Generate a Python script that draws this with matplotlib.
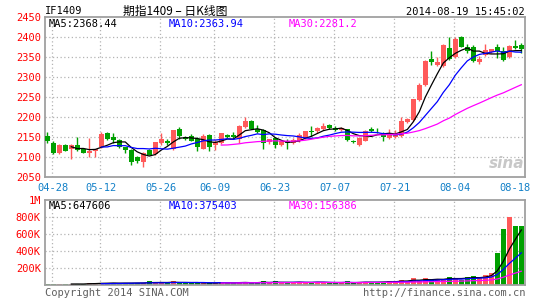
import numpy as np
import pandas as pd
import matplotlib
matplotlib.use('Agg')
import matplotlib.pyplot as plt

# ---- data (IF1409 daily, 2014-04-25 .. 2014-08-19) ----
holidays = ['2014-05-01', '2014-05-02', '2014-06-02']
trade_days = [d for d in pd.bdate_range('2014-04-25', '2014-08-19')
              if d.strftime('%Y-%m-%d') not in holidays]
day_labels = [d.strftime('%m-%d') for d in trade_days]

opens = [2152, 2136, 2109, 2131, 2120, 2131, 2119, 2109, 2114, 2124,
         2161, 2149, 2143, 2124, 2118, 2101, 2088, 2117, 2108, 2134,
         2139, 2119, 2171, 2151, 2152, 2144, 2121, 2154, 2131, 2134,
         2156, 2154, 2144, 2174, 2191, 2171, 2167, 2138, 2147, 2129,
         2141, 2134, 2139, 2147, 2164, 2164, 2171, 2180, 2173, 2167,
         2169, 2141, 2131, 2141, 2169, 2166, 2161, 2147, 2149, 2152,
         2188, 2193, 2243, 2280, 2345, 2330, 2328, 2373, 2351, 2401,
         2374, 2376, 2338, 2355, 2362, 2374, 2366, 2349, 2378, 2381]
highs = [2163, 2140, 2133, 2132, 2133, 2151, 2121, 2148, 2121, 2162,
         2162, 2161, 2144, 2126, 2121, 2103, 2113, 2120, 2138, 2159,
         2145, 2168, 2174, 2152, 2157, 2151, 2157, 2158, 2142, 2161,
         2158, 2162, 2180, 2199, 2192, 2181, 2170, 2146, 2150, 2141,
         2144, 2148, 2160, 2166, 2177, 2174, 2186, 2183, 2178, 2174,
         2171, 2143, 2150, 2168, 2174, 2172, 2163, 2171, 2168, 2199,
         2197, 2246, 2284, 2342, 2366, 2349, 2382, 2399, 2400, 2402,
         2382, 2380, 2352, 2382, 2371, 2382, 2374, 2380, 2392, 2385]
lows = [2134, 2107, 2107, 2114, 2096, 2115, 2110, 2099, 2099, 2122,
        2142, 2134, 2122, 2111, 2079, 2084, 2075, 2104, 2106, 2129,
        2129, 2117, 2146, 2142, 2139, 2116, 2119, 2116, 2117, 2132,
        2148, 2148, 2134, 2172, 2170, 2159, 2121, 2132, 2122, 2127,
        2121, 2132, 2137, 2145, 2152, 2160, 2168, 2170, 2165, 2165,
        2140, 2135, 2128, 2139, 2162, 2160, 2141, 2145, 2147, 2150,
        2186, 2190, 2240, 2278, 2330, 2328, 2325, 2343, 2348, 2374,
        2360, 2338, 2333, 2352, 2360, 2347, 2340, 2347, 2371, 2360]
closes = [2141, 2109, 2131, 2116, 2131, 2118, 2111, 2116, 2119, 2157,
          2144, 2143, 2126, 2118, 2088, 2089, 2111, 2106, 2137, 2144,
          2134, 2167, 2152, 2145, 2141, 2126, 2152, 2126, 2137, 2159,
          2151, 2151, 2177, 2191, 2171, 2163, 2134, 2144, 2129, 2139,
          2136, 2142, 2154, 2164, 2162, 2172, 2177, 2172, 2168, 2172,
          2143, 2137, 2147, 2166, 2164, 2164, 2149, 2154, 2157, 2190,
          2194, 2245, 2280, 2340, 2338, 2337, 2380, 2345, 2396, 2376,
          2366, 2341, 2345, 2367, 2369, 2366, 2343, 2378, 2373, 2371]
# volume in thousands of lots
volumes = [12, 14, 10, 12, 10, 14, 12, 28, 18, 26,
           20, 24, 20, 22, 24, 26, 24, 45, 26, 28,
           24, 42, 30, 24, 22, 26, 24, 22, 20, 40,
           22, 20, 38, 30, 26, 24, 44, 24, 42, 26,
           22, 38, 40, 26, 22, 36, 38, 22, 24, 24,
           42, 20, 38, 40, 22, 40, 32, 50, 45, 62,
           45, 80, 50, 80, 58, 70, 75, 95, 80, 60,
           95, 105, 90, 115, 145, 380, 660, 805, 695, 695]

date_ticks = ['04-28', '05-12', '05-26', '06-09', '06-23', '07-07', '07-21', '08-04', '08-18']
price_ticks = [2050, 2100, 2150, 2200, 2250, 2300, 2350, 2400, 2450]
vol_ticks = [200, 400, 600, 800, 1000]
vol_tick_labels = ['200K', '400K', '600K', '800K', '1M']

price_ma_text = ['MA5:2368.44', 'MA10:2363.94', 'MA30:2281.2']
vol_ma_text = ['MA5:647606', 'MA10:375403', 'MA30:156386']
ma_windows = [5, 10, 30]

# ---- styling ----
RED = '#ff5a5a'
GREEN = '#00a000'
MA_COLORS = ['black', '#0000ff', '#ff00ff']
GRID = '#b4b4b4'
FRAME = '#a0a0a0'
TICK_RED = '#ff0000'
DATE_BLUE = '#1280c8'
MONO = 'DejaVu Sans Mono'

W, H = 540, 300
fig = plt.figure(figsize=(W / 100, H / 100), dpi=100)
fig.patch.set_facecolor('white')


def fx(px):
    return px / W


def fy(py):
    return 1 - py / H


ax1 = fig.add_axes([fx(45), fy(177), fx(479.5), 160 / H])
ax2 = fig.add_axes([fx(45), fy(285), fx(479.5), 85 / H])

x = np.arange(len(closes))
o = np.array(opens, float)
c = np.array(closes, float)
hi = np.array(highs, float)
lo = np.array(lows, float)
vol = np.array(volumes, float)
up = c >= o
colors = np.where(up, RED, GREEN)

tick_pos = [day_labels.index(d) for d in date_ticks]

for ax in (ax1, ax2):
    ax.set_xlim(-0.38, 79.53)
    for s in ax.spines.values():
        s.set_color(FRAME)
        s.set_linewidth(1.3)
    # vertical dotted grid at dates (none at the last label)
    for p in tick_pos[:-1]:
        ax.axvline(p - 0.2, color=GRID, lw=0.9, ls=(0, (1, 2)), zorder=0)

# ---- price panel ----
ax1.set_ylim(2050, 2450)
for yv in price_ticks[1:-1]:
    ax1.axhline(yv, color=GRID, lw=0.9, ls=(0, (1, 2)), zorder=0)

ax1.vlines(x, lo, hi, colors=colors, lw=1.0, zorder=2)
body_h = np.maximum(np.abs(c - o), 1.5)
ax1.bar(x, body_h, bottom=np.minimum(o, c), width=0.8, color=colors,
        linewidth=0, zorder=3)

close_s = pd.Series(c)
for w, col in zip(ma_windows, MA_COLORS):
    ax1.plot(x, close_s.rolling(w).mean(), color=col, lw=0.9, zorder=4)

ax1.set_yticks(price_ticks)
ax1.set_yticklabels([str(v) for v in price_ticks])
ax1.tick_params(axis='y', length=0, pad=3, labelcolor=TICK_RED, labelsize=7.5)
ax1.set_xticks(tick_pos)
ax1.set_xticklabels(date_ticks)
ax1.tick_params(axis='x', length=0, pad=4, labelcolor=DATE_BLUE, labelsize=7.5)
for lab in ax1.get_yticklabels() + ax1.get_xticklabels():
    lab.set_family(MONO)

# ---- volume panel ----
ax2.set_ylim(0, 1000)
for yv in vol_ticks[:-1]:
    ax2.axhline(yv, color=GRID, lw=0.9, ls=(0, (1, 2)), zorder=0)
ax2.bar(x, vol, width=0.8, color=colors, linewidth=0, zorder=2)
vol_s = pd.Series(vol)
for w, col in zip(ma_windows, MA_COLORS):
    ax2.plot(x, vol_s.rolling(w).mean(), color=col, lw=0.9, zorder=3)
ax2.set_yticks(vol_ticks)
ax2.set_yticklabels(vol_tick_labels)
ax2.tick_params(axis='y', length=0, pad=3, labelcolor=TICK_RED, labelsize=7.5)
ax2.set_xticks([])
for lab in ax2.get_yticklabels():
    lab.set_family(MONO)

# ---- texts ----
fig.text(fx(45), fy(11), 'IF1409', family=MONO, fontsize=7.5, va='center', ha='left')
fig.text(fx(175), fy(11), '期指1409 – 日K线图', family=['Noto Sans CJK SC', 'DejaVu Sans'],
         fontsize=8.5, va='center', ha='center')
fig.text(fx(525), fy(12), '2014-08-19 15:45:02', family=MONO, fontsize=7.5,
         va='center', ha='right')

for txt, col, px in zip(price_ma_text, MA_COLORS, [49, 169, 289]):
    fig.text(fx(px), fy(24), txt, family=MONO, fontsize=7.5, color=col, va='center', ha='left')
for txt, col, px in zip(vol_ma_text, MA_COLORS, [49, 169, 289]):
    fig.text(fx(px), fy(206), txt, family=MONO, fontsize=7.5, color=col, va='center', ha='left')

fig.text(fx(45), fy(293), 'Copyright 2014 SINA.COM', family=MONO, fontsize=7.5,
         color='#606060', va='center', ha='left')
fig.text(fx(525), fy(293), 'http://finance.sina.com.cn', family=MONO, fontsize=7.5,
         color='#606060', va='center', ha='right')

# sina watermark
fig.text(fx(507), fy(164), 'sina', fontsize=11, style='italic', weight='bold',
         color='#c8c8c8', va='center', ha='center')

fig.savefig('out.png', dpi=100, facecolor='white')
